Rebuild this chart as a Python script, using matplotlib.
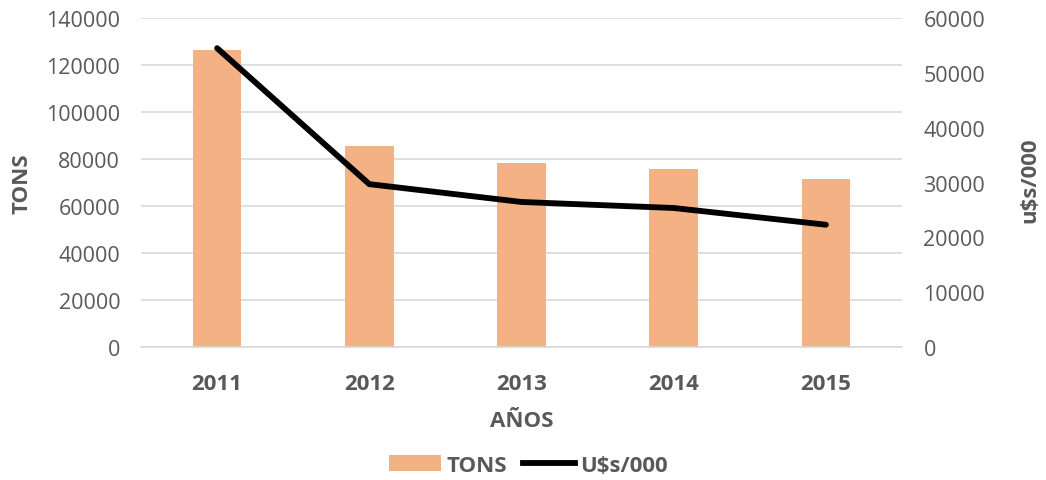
import matplotlib
matplotlib.use("Agg")
import matplotlib.pyplot as plt
import numpy as np
from matplotlib.lines import Line2D
from matplotlib.patches import Patch

# chart data
years = ["2011", "2012", "2013", "2014", "2015"]
tons = [126400, 85700, 78300, 75700, 71500]
usd = [54500, 29700, 26450, 25350, 22300]

plt.rcParams['font.family'] = ['Open Sans', 'DejaVu Sans']
grey = '#595959'
bar_color = '#F4B183'

fig = plt.figure(figsize=(10.46, 4.81), dpi=100)
ax = fig.add_axes([0.1348, 0.2765, 0.7275, 0.684])
ax2 = ax.twinx()

x = np.arange(len(years))
ax.bar(x, tons, width=0.32, color=bar_color, zorder=2)
ax2.plot(x, usd, color='black', linewidth=4.2, solid_capstyle='round', zorder=3)

ax.set_xlim(-0.5, len(years) - 0.5)
ax.set_ylim(0, 140000)
ax2.set_ylim(0, 60000)
ax.set_yticks(np.arange(0, 140001, 20000))
ax2.set_yticks(np.arange(0, 60001, 10000))

# excel-like look: horizontal grid, only a light bottom axis line
ax.grid(True, axis='y', color='#d9d9d9', linewidth=1.2, zorder=0)
ax.set_axisbelow(True)
for a in (ax, ax2):
    for s in a.spines.values():
        s.set_visible(False)
ax.spines['bottom'].set_visible(True)
ax.spines['bottom'].set_color('#d9d9d9')
ax.spines['bottom'].set_linewidth(1.2)

ax.set_xticks(x)
ax.set_xticklabels(years, fontsize=16, fontweight='bold', color=grey)
ax.tick_params(axis='x', length=0, pad=18.5)
ax.tick_params(axis='y', length=0, labelsize=15.5, labelcolor=grey, pad=15)
ax2.tick_params(axis='y', length=0, labelsize=15.5, labelcolor=grey, pad=15.5)

xl = ax.set_xlabel('AÑOS', fontsize=16, fontweight='bold', color=grey)
xl.set_verticalalignment('center')
ax.xaxis.set_label_coords(0.5, -0.222)

yl = ax.set_ylabel('TONS', fontsize=16, fontweight='bold', color=grey)
yl.set_verticalalignment('center')
ax.yaxis.set_label_coords(-0.156, 0.5)

yr = ax2.set_ylabel('u$s/000', fontsize=16, fontweight='bold', color=grey, rotation=90)
yr.set_verticalalignment('center')
ax2.yaxis.set_label_coords(1.168, 0.51)

handles = [Patch(facecolor=bar_color, label='TONS'),
           Line2D([0], [0], color='black', linewidth=4.2, label='U$s/000')]
leg = fig.legend(handles=handles, loc='center', bbox_to_anchor=(0.505, 0.031),
                 ncol=2, frameon=False, handlelength=2.35, handletextpad=0.25,
                 columnspacing=0.7, prop={'size': 16, 'weight': 'bold'})
for t in leg.get_texts():
    t.set_color(grey)

fig.savefig('out.png', dpi=100, facecolor='white')
